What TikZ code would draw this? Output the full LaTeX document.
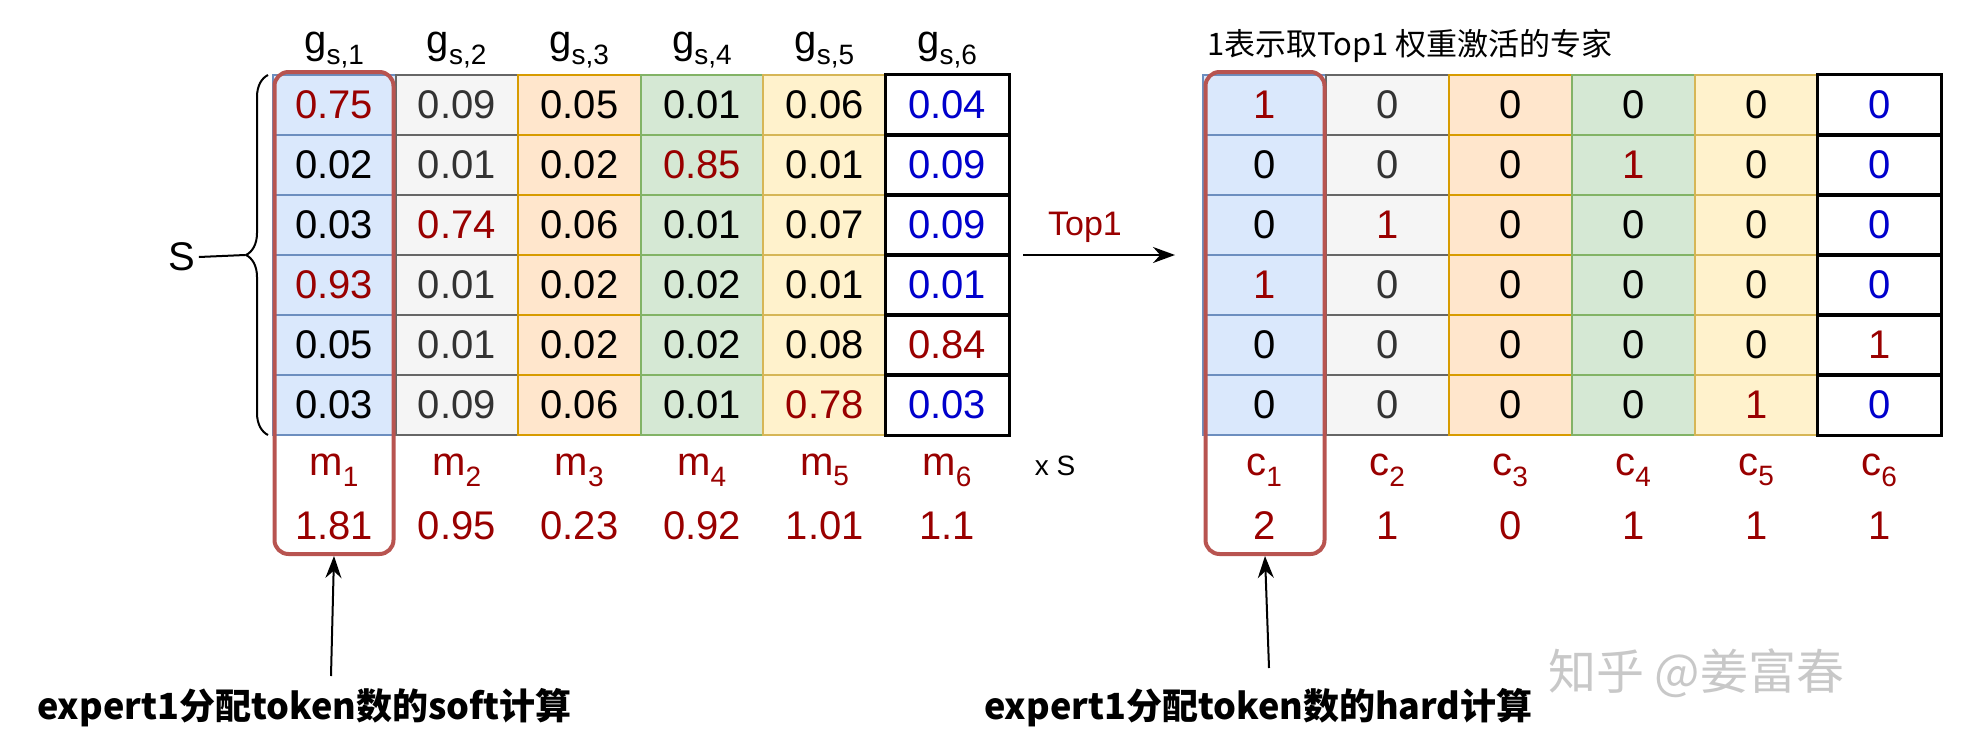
\documentclass[tikz,border=0pt]{standalone}
\usepackage{fontspec}
\setmainfont{Liberation Sans}
\newfontfamily\cjk{Noto Sans CJK SC}
\usetikzlibrary{arrows.meta,decorations.pathreplacing}
\definecolor{dred}{HTML}{990000}
\definecolor{dblue}{HTML}{0000CC}
\definecolor{gtx}{HTML}{333333}
\definecolor{blk}{HTML}{000000}
\definecolor{f1}{HTML}{DAE8FC}\definecolor{s1}{HTML}{6C8EBF}
\definecolor{f2}{HTML}{F5F5F5}\definecolor{s2}{HTML}{666666}
\definecolor{f3}{HTML}{FFE6CC}\definecolor{s3}{HTML}{D79B00}
\definecolor{f4}{HTML}{D5E8D4}\definecolor{s4}{HTML}{82B366}
\definecolor{f5}{HTML}{FFF2CC}\definecolor{s5}{HTML}{D6B656}
\definecolor{f6}{HTML}{FFFFFF}\definecolor{s6}{HTML}{000000}
\definecolor{boxred}{HTML}{B85450}
\definecolor{wm}{HTML}{C8C8C8}
\tikzset{
 cell/.style={rectangle,minimum width=122.6pt,minimum height=60pt,inner sep=0pt,line width=2pt,font=\fontsize{40}{40}\selectfont},
 hdr/.style={font=\fontsize{40}{40}\selectfont,inner sep=0pt},
 lab/.style={font=\fontsize{40}{40}\selectfont,text=dred,inner sep=0pt},
 redbox/.style={draw=boxred,line width=4pt,rounded corners=14pt},
 arr/.style={-{Stealth[length=22pt,width=16pt]},line width=2pt},
 note/.style={font=\cjk\bfseries\fontsize{36}{36}\selectfont,inner sep=0pt,anchor=west}
}
\begin{document}
\begin{tikzpicture}[x=1pt,y=-1pt]
\useasboundingbox (0,0) rectangle (1961,755);
% left grid
\foreach \r/\vals in {1/{0.75/dred,0.09/gtx,0.05/blk,0.01/blk,0.06/blk,0.04/dblue},
 2/{0.02/blk,0.01/gtx,0.02/blk,0.85/dred,0.01/blk,0.09/dblue},
 3/{0.03/blk,0.74/dred,0.06/blk,0.01/blk,0.07/blk,0.09/dblue},
 4/{0.93/dred,0.01/gtx,0.02/blk,0.02/blk,0.01/blk,0.01/dblue},
 5/{0.05/blk,0.01/gtx,0.02/blk,0.02/blk,0.08/blk,0.84/dred},
 6/{0.03/blk,0.09/gtx,0.06/blk,0.01/blk,0.78/dred,0.03/dblue}}{
 \foreach \v/\tc [count=\c] in \vals {
  \node[cell,fill=f\c,draw=s\c,text=\tc] (L-\r-\c) at ({273+122.6*(\c-0.5)},{75+60*(\r-0.5)}) {\v};
 }
}
% right grid
\foreach \r/\vals in {1/{1/dred,0/gtx,0/blk,0/blk,0/blk,0/dblue},
 2/{0/blk,0/gtx,0/blk,1/dred,0/blk,0/dblue},
 3/{0/blk,1/dred,0/blk,0/blk,0/blk,0/dblue},
 4/{1/dred,0/gtx,0/blk,0/blk,0/blk,0/dblue},
 5/{0/blk,0/gtx,0/blk,0/blk,0/blk,1/dred},
 6/{0/blk,0/gtx,0/blk,0/blk,1/dred,0/dblue}}{
 \foreach \v/\tc [count=\c] in \vals {
  \node[cell,fill=f\c,draw=s\c,text=\tc] (R-\r-\c) at ({1203+123*(\c-0.5)},{75+60*(\r-0.5)}) {\v};
 }
}
% redraw black column borders on top
\foreach \r in {1,...,6}{\draw[line width=2pt] (L-\r-6.north west) rectangle (L-\r-6.south east);
 \draw[line width=2pt] (R-\r-6.north west) rectangle (R-\r-6.south east);}
% headers and labels
\foreach \c/\m/\cv/\h in {1/1.81/2/1,2/0.95/1/2,3/0.23/0/3,4/0.92/1/4,5/1.01/1/5,6/1.1/1/6}{
 \node[hdr] (G\c) at ({273+122.6*(\c-0.5)},50) {g\textsubscript{s,\h}};
 \node[lab] (M\c) at ({273+122.6*(\c-0.5)},470) {m\textsubscript{\h}};
 \node[lab] (MV\c) at ({273+122.6*(\c-0.5)},526) {\m};
 \node[lab] (C\c) at ({1203+123*(\c-0.5)},470) {c\textsubscript{\h}};
 \node[lab] (CV\c) at ({1203+123*(\c-0.5)},526) {\cv};
}
% red boxes
\node[redbox,minimum width=119pt,minimum height=482pt] (B1) at (334,313) {};
\node[redbox,minimum width=119pt,minimum height=482pt] (B2) at (1265,313) {};
% brace and S
\draw[line width=2pt,decorate,decoration={brace,amplitude=22pt}] (268,435) -- (268,75);
\node[font=\fontsize{40}{40}\selectfont] (S) at (182,257) {S};
\coordinate (bt) at (245,255);
\draw[line width=2pt] (bt) -- (S.east) ;
% top1 arrow
\coordinate (a0) at (1023,255); \coordinate (a1) at (1175,255);
\draw[arr] (a0) -- (a1);
\node[font=\fontsize{34}{34}\selectfont,text=dred] (T) at (1085,227) {Top1};
\node[font=\fontsize{28}{28}\selectfont] (XS) at (1055,466) {x S};
\node[font=\cjk\fontsize{31}{31}\selectfont,anchor=west,inner sep=0pt] (TT) at (1207,46) {1表示取Top1 权重激活的专家};
% notes
\node[note] (N1) at (37,708) {expert1分配token数的soft计算};
\node[note] (N2) at (984,708) {expert1分配token数的hard计算};
\coordinate (p1) at (331,676); \coordinate (p2) at (1269,668);
\draw[arr] (p1) -- (B1.south);
\draw[arr] (p2) -- (B2.south);
\node[font=\cjk\fontsize{48}{48}\selectfont,text=wm,anchor=west,inner sep=0pt] (W) at (1548,673) {知乎 @姜富春};
\end{tikzpicture}
\end{document}
